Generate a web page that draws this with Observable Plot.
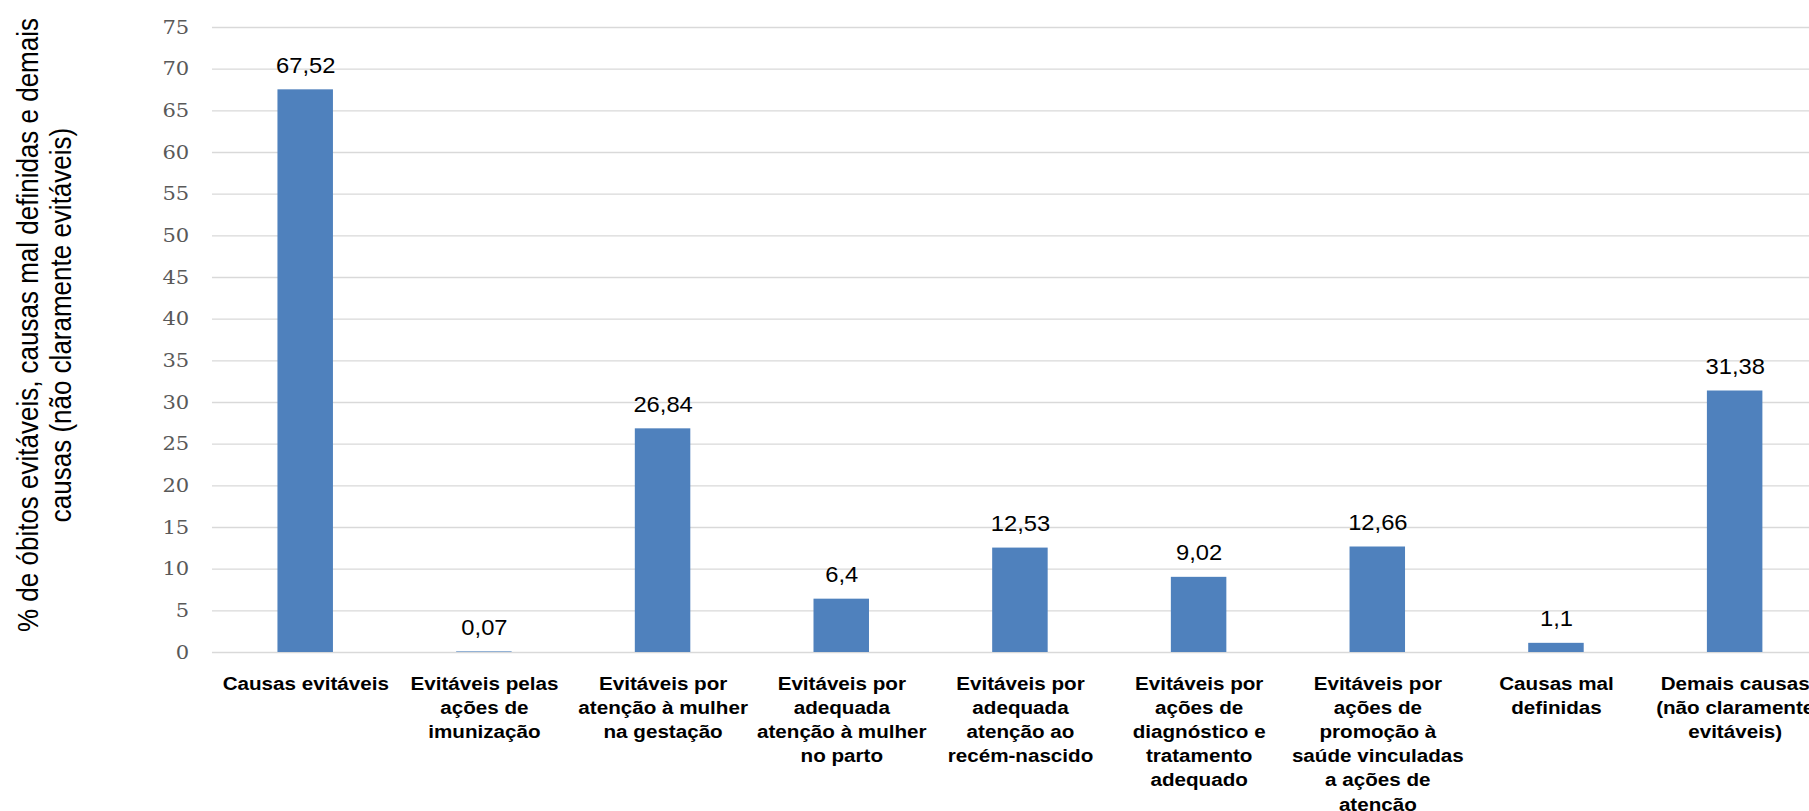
<!DOCTYPE html>
<html>
<head>
<meta charset="utf-8">
<script src="https://cdn.jsdelivr.net/npm/d3@7"></script>
<script src="https://cdn.jsdelivr.net/npm/@observablehq/plot@0.6"></script>
<style>
  html, body { margin: 0; padding: 0; background: #fff; overflow: hidden; }
  #chart svg { display: block; overflow: visible; }
</style>
</head>
<body>
<div id="chart"></div>
<script>
// Categories of neonatal deaths and their share (%)
const categories = [
  "Causas evitáveis",
  "Evitáveis pelas ações de imunização",
  "Evitáveis por atenção à mulher na gestação",
  "Evitáveis por adequada atenção à mulher no parto",
  "Evitáveis por adequada atenção ao recém-nascido",
  "Evitáveis por ações de diagnóstico e tratamento adequado",
  "Evitáveis por ações de promoção à saúde vinculadas a ações de atenção",
  "Causas mal definidas",
  "Demais causas (não claramente evitáveis)"
];
const values = [67.52, 0.07, 26.84, 6.4, 12.53, 9.02, 12.66, 1.1, 31.38];
// Wrapped category labels shown under the axis
const tickLabels = [
  "Causas evitáveis",
  "Evitáveis pelas\nações de\nimunização",
  "Evitáveis por\natenção à mulher\nna gestação",
  "Evitáveis por\nadequada\natenção à mulher\nno parto",
  "Evitáveis por\nadequada\natenção ao\nrecém-nascido",
  "Evitáveis por\nações de\ndiagnóstico e\ntratamento\nadequado",
  "Evitáveis por\nações de\npromoção à\nsaúde vinculadas\na ações de\natenção",
  "Causas mal\ndefinidas",
  "Demais causas\n(não claramente\nevitáveis)"
];
const yTicks = [0, 5, 10, 15, 20, 25, 30, 35, 40, 45, 50, 55, 60, 65, 70, 75];
const yTitle = "% de óbitos evitáveis, causas mal definidas e demais\ncausas (não claramente evitáveis)";

const rows = categories.map((c, i) => ({
  cat: c,
  value: values[i],
  label: String(values[i]).replace(".", ","),
  tick: tickLabels[i]
}));

// The drawing is laid out in a narrower coordinate space and then
// stretched horizontally to the page width (wide, Excel-like glyphs).
const W = 1809, H = 811;
const stretch = 1.11;
const Wp = Math.round(W / stretch);      // 1630
const mL = Math.round(212 / stretch);    // 191
const xEnd = Math.round(1829 / stretch); // 1648
const mT = 27, mB = 159;

const chart = Plot.plot({
  width: Wp,
  height: H,
  marginLeft: mL,
  marginRight: 0,
  marginTop: mT,
  marginBottom: mB,
  style: { background: "#fff", color: "#595959", overflow: "visible" },
  x: { domain: categories, range: [mL, xEnd], paddingInner: 0.688, paddingOuter: 0.344, axis: null },
  y: { domain: [0, 75], axis: null },
  marks: [
    Plot.gridY(yTicks, { stroke: "#d9d9d9", strokeOpacity: 1, strokeWidth: 1.4 }),
    Plot.axisY(yTicks, {
      label: null,
      tickSize: 0,
      tickPadding: 21,
      fontSize: 19,
      fontFamily: "DejaVu Serif",
      fill: "#595959"
    }),
    Plot.barY(rows, { x: "cat", y: "value", fill: "#4f81bd" }),
    Plot.text(rows, {
      x: "cat",
      y: "value",
      text: "label",
      lineAnchor: "bottom",
      dy: -17,
      fontSize: 21.4,
      fontFamily: "Liberation Sans, Arial, sans-serif",
      fill: "#000"
    }),
    Plot.text(rows, {
      x: "cat",
      text: "tick",
      frameAnchor: "bottom",
      lineAnchor: "top",
      dy: 20,
      lineHeight: 1.30,
      fontSize: 18.6,
      fontWeight: "bold",
      fontFamily: "Liberation Sans, Arial, sans-serif",
      fill: "#000"
    }),
    Plot.text([yTitle], {
      frameAnchor: "left",
      rotate: -90,
      dx: -152,
      dy: -15,
      lineAnchor: "middle",
      textAnchor: "middle",
      lineHeight: 1.14,
      fontSize: 26,
      fontFamily: "Liberation Sans, Arial, sans-serif",
      fill: "#000"
    })
  ]
});

chart.setAttribute("width", W);
chart.setAttribute("height", H);
chart.setAttribute("preserveAspectRatio", "none");
chart.style.width = W + "px";
chart.style.height = H + "px";
chart.style.maxWidth = "none";

document.getElementById("chart").appendChild(chart);
</script>
</body>
</html>
